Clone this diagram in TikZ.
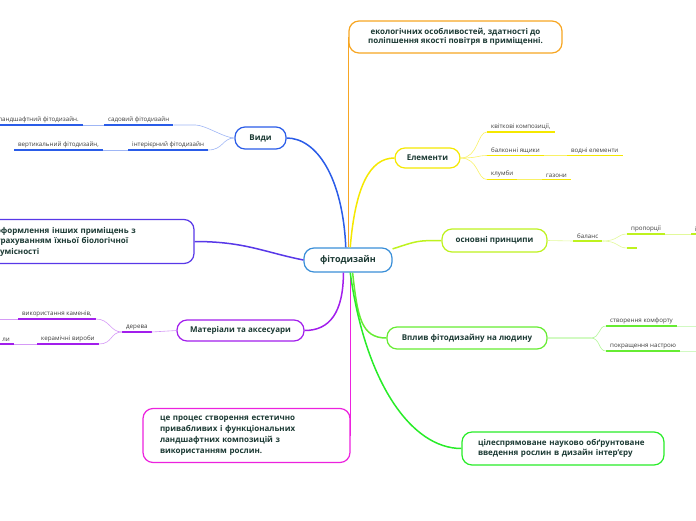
\documentclass[tikz,border=0pt]{standalone}
\usepackage{fontspec}
\setmainfont{Open Sans}
\usepackage{tikz}
\usetikzlibrary{calc}
\definecolor{zentrum}{RGB}{58,143,216}
\definecolor{orang}{RGB}{247,166,35}
\definecolor{vydyblau}{RGB}{42,92,232}
\definecolor{indigo}{RGB}{88,56,232}
\definecolor{violett}{RGB}{162,30,236}
\definecolor{magentarot}{RGB}{236,34,222}
\definecolor{gelb}{RGB}{245,232,0}
\definecolor{gelbgruen}{RGB}{190,242,30}
\definecolor{hellgruen}{RGB}{102,236,50}
\definecolor{gruen}{RGB}{40,236,40}
\definecolor{schrift}{RGB}{28,58,52}
\definecolor{blatt}{RGB}{60,60,60}

\begin{document}
\begin{tikzpicture}[x=1pt, y=-1pt,
    box/.style={draw, line width=1.2pt, rounded corners=10pt, fill=white, text=schrift,
        font=\bfseries\fontsize{8}{10}\selectfont, inner sep=0pt},
    textbox/.style={box, font=\bfseries\fontsize{8}{10.5}\selectfont},
    leaf/.style={text=blatt, font=\fontsize{6.2}{7}\selectfont, inner xsep=4pt, inner ysep=2pt},
    ul/.style={line width=1.3pt},
    duenn/.style={line width=0.6pt},
    ast/.style={line width=1.5pt},
]
\clip (0,0) rectangle (696,520);

% Hauptknoten
\node[box, draw=zentrum, minimum width=88pt, minimum height=24pt,
      font=\bfseries\fontsize{9}{11}\selectfont] (centr) at (348,260) {фітодизайн};

\node[textbox, draw=orang, minimum width=213pt, minimum height=32pt, align=center,
      font=\bfseries\fontsize{8}{9.5}\selectfont]
    (oben) at (455.5,37) {екологічних особливостей, здатності до\\поліпшення якості повітря в приміщенні.};
\node[box, draw=vydyblau, minimum width=51pt, minimum height=22pt] (vydy) at (260.5,138) {Види};
\node[textbox, draw=indigo, text width=180pt, inner xsep=18pt, minimum height=44pt, align=left]
    (links) at (86,241.5) {оформлення інших приміщень з\\урахуванням їхньої біологічної\\сумісності};
\node[box, draw=violett, minimum width=127pt, minimum height=21pt] (materialy) at (240.5,330.5) {Матеріали та аксесуари};
\node[textbox, draw=magentarot, text width=173pt, inner xsep=17pt, minimum height=54pt, align=left,
      font=\bfseries\fontsize{8}{11}\selectfont]
    (magbox) at (246.5,435.5) {це процес створення естетично\\привабливих і функціональних\\ландшафтних композицій з\\використанням рослин.};
\node[box, draw=gelb, minimum width=65pt, minimum height=20pt] (elem) at (427.5,158) {Елементи};
\node[box, draw=gelbgruen, minimum width=105pt, minimum height=23pt] (osnov) at (494.5,240.5) {основні принципи};
\node[box, draw=hellgruen, minimum width=160pt, minimum height=22pt] (vplyv) at (467,338) {Вплив фітодизайну на людину};
\node[textbox, draw=gruen, text width=170pt, inner xsep=16pt, minimum height=33pt, align=left,
      font=\bfseries\fontsize{8}{10}\selectfont]
    (cile) at (563,448.5) {цілеспрямоване науково обґрунтоване\\введення рослин в дизайн інтер'єру};

% Aeste vom Zentrum
\draw[ast, orang] (centr.north -| oben.west) -- (oben.west);
\draw[ast, magentarot] (centr.south -| magbox.east) -- (magbox.east);
\draw[ast, vydyblau] (centr.100) .. controls +(-3,-70) and +(30,0) .. (vydy.east);
\draw[ast, indigo] (centr.west) .. controls +(-40,-8) and +(50,0) .. (links.east);
\draw[ast, violett] (centr.250) .. controls +(0,40) and +(25,0) .. (materialy.east);
\draw[ast, gelb] (centr.80) .. controls +(5,-60) and +(-25,0) .. (elem.west);
\draw[ast, gelbgruen] (centr.14) .. controls +(25,-8) and +(-25,0) .. (osnov.west);
\draw[ast, hellgruen] (centr.290) .. controls +(5,45) and +(-25,0) .. (vplyv.west);
\draw[ast, gruen] (centr.280) .. controls +(15,110) and +(-50,0) .. (cile.west);

% Види
\node[leaf, anchor=south west] (sad) at (104,125) {садовий фітодизайн};
\node[leaf, anchor=south east] (land) at (83,125) {ландшафтний фітодизайн.};
\node[leaf, anchor=south west] (inter) at (128,150) {інтерієрний фітодизайн};
\node[leaf, anchor=south west] (vert) at (14,150) {вертикальний фітодизайн,};
\foreach \n in {sad,land,inter,vert}
    \draw[ul, vydyblau] (\n.south west) -- (\n.south east);
\draw[duenn, vydyblau!45] (sad.south east) -- +(22,0) .. controls +(10,0) and +(-10,0) .. (vydy.west);
\draw[duenn, vydyblau!45] (inter.south east) .. controls +(15,0) and +(-12,0) .. (vydy.west);
\draw[duenn, vydyblau!45] (land.south east) -- (sad.south west);
\draw[duenn, vydyblau!45] (vert.south east) -- (inter.south west);

% Матеріали
\node[leaf, anchor=south west] (derev) at (122,332) {дерева};
\node[leaf, anchor=south west] (kamin) at (18,319) {використання каменів,};
\node[leaf, anchor=south west] (keram) at (37,344) {керамічні вироби};
\node[leaf, anchor=south east] (li) at (14,344) {ли};
\coordinate (kaminL) at (-5,319);
\foreach \n in {derev,kamin,keram,li}
    \draw[ul, violett] (\n.south west) -- (\n.south east);
\draw[duenn, violett!45] (derev.south east) -- (materialy.west);
\draw[duenn, violett!45] (kamin.south east) .. controls +(14,0) and +(-12,0) .. (derev.south west);
\draw[duenn, violett!45] (keram.south east) .. controls +(14,0) and +(-12,0) .. (derev.south west);
\draw[duenn, violett!45] (li.south east) -- (keram.south west);
\draw[duenn, violett!45] (kaminL) -- (kamin.south west);

% Елементи
\node[leaf, anchor=south west] (kvit) at (487,132) {квіткові композиції,};
\node[leaf, anchor=south west] (balk) at (487,155.5) {балконні ящики};
\node[leaf, anchor=south west] (vodni) at (567,155.5) {водні елементи};
\node[leaf, anchor=south west] (klumb) at (487,179.5) {клумби};
\node[leaf, anchor=south west] (gazon) at (542,179.5) {газони};
\foreach \n in {kvit,balk,vodni,klumb,gazon}
    \draw[ul, gelb] (\n.south west) -- (\n.south east);
\draw[duenn, gelb!60] (elem.east) .. controls +(18,0) and +(-10,0) .. (kvit.south west);
\draw[duenn, gelb!60] (elem.east) .. controls +(18,0) and +(-10,0) .. (balk.south west);
\draw[duenn, gelb!60] (elem.east) .. controls +(18,0) and +(-10,0) .. (klumb.south west);
\draw[duenn, gelb!60] (balk.south east) -- (vodni.south west);
\draw[duenn, gelb!60] (klumb.south east) -- (gazon.south west);

% основні принципи
\node[leaf, anchor=south west] (balans) at (573,241) {баланс};
\node[leaf, anchor=south west] (prop) at (627,234) {пропорції};
\node[leaf, anchor=south west, minimum width=10pt] (leer) at (627,248) {};
\node[leaf, anchor=south west] (weiter) at (691,234) {і};
\foreach \n in {balans,prop,leer,weiter}
    \draw[ul, gelbgruen] (\n.south west) -- (\n.south east);
\draw[duenn, gelbgruen!45] (osnov.east) -- (balans.south west);
\draw[duenn, gelbgruen!45] (balans.south east) .. controls +(16,0) and +(-10,0) .. (prop.south west);
\draw[duenn, gelbgruen!45] (balans.south east) .. controls +(16,0) and +(-10,0) .. (leer.south west);
\draw[duenn, gelbgruen!45] (prop.south east) -- (weiter.south west);

% Вплив
\node[leaf, anchor=south west] (komfort) at (606,326) {створення комфорту};
\node[leaf, anchor=south west] (nastr) at (606,351) {покращення настрою};
\coordinate (komfortR) at (705,326);
\coordinate (nastrR) at (705,351);
\foreach \n in {komfort,nastr}
    \draw[ul, hellgruen] (\n.south west) -- (\n.south east);
\draw[duenn, hellgruen!50] (vplyv.east) -- +(43,0) .. controls +(10,0) and +(-8,0) .. (komfort.south west);
\draw[duenn, hellgruen!50] (vplyv.east) -- +(43,0) .. controls +(10,0) and +(-8,0) .. (nastr.south west);
\draw[duenn, hellgruen!30] (komfort.south east) -- (komfortR);
\draw[duenn, hellgruen!30] (nastr.south east) -- (nastrR);

\end{tikzpicture}
\end{document}
